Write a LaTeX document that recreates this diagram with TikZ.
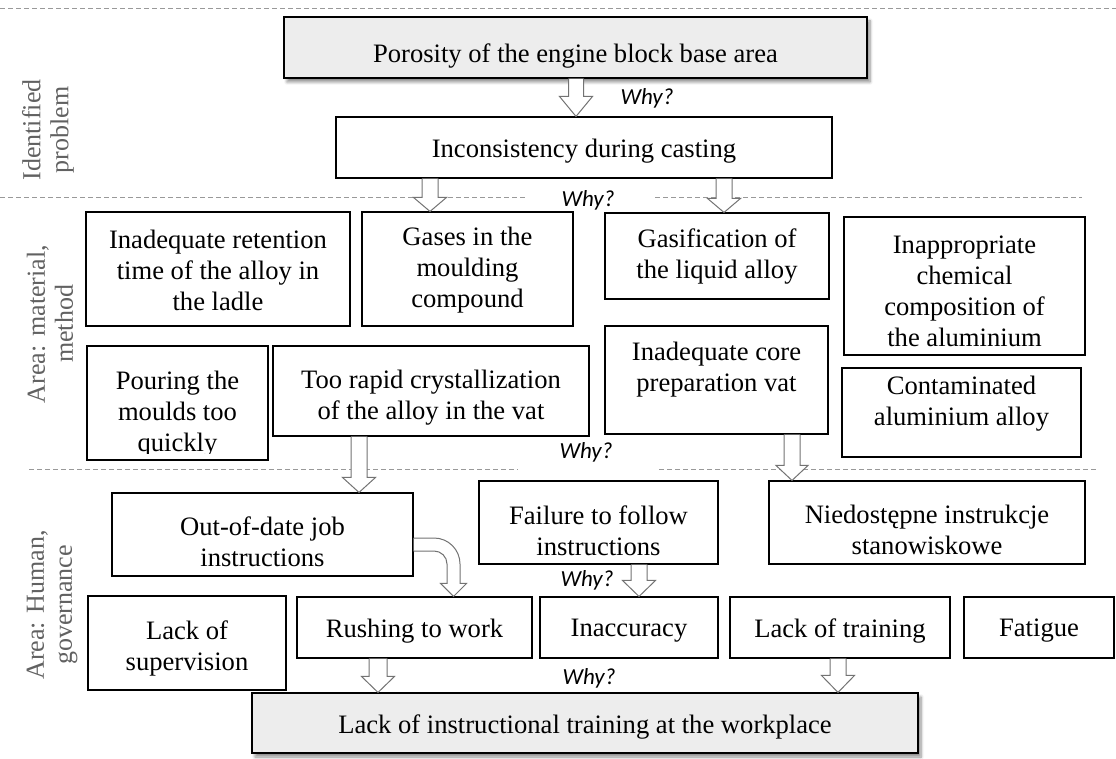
\documentclass[tikz,border=0pt]{standalone}
\usepackage{fontspec}
\setmainfont{Liberation Serif}
\newfontfamily\whyfont{Carlito}
\usetikzlibrary{calc,shadows.blur}

\tikzset{
  box/.style={draw=black, line width=1.1pt, fill=white, inner sep=0pt},
  gbox/.style={box, fill=black!7, blur shadow={shadow xshift=3pt, shadow yshift=-4pt, shadow blur steps=6, shadow blur radius=3pt, shadow opacity=45}},
  txt/.style={align=center, font=\fontsize{26.6}{31}\selectfont, inner sep=0pt},
  why/.style={font=\whyfont\itshape\fontsize{23}{26}\selectfont, inner sep=0pt},
  side/.style={align=center, rotate=90, text=black!62, font=\fontsize{26}{28}\selectfont, inner sep=0pt},
  sep/.style={draw=black!40, line width=0.8pt, dash pattern=on 5pt off 3pt},
  blk/.style={draw=black!55, line width=1pt, fill=white, line join=miter},
}

% #1 from node, #2 to node, #3 x centre, #4 shaft half width, #5 head half width, #6 head length
\newcommand{\blkarrow}[6]{%
  \draw[blk] let \p1=(#1.south), \p2=(#2.north) in
    (#3pt-#4pt,\y1) -- (#3pt-#4pt,\y2+#6pt) -- (#3pt-#5pt,\y2+#6pt) -- (#3pt,\y2)
    -- (#3pt+#5pt,\y2+#6pt) -- (#3pt+#4pt,\y2+#6pt) -- (#3pt+#4pt,\y1);
}

\begin{document}
\begin{tikzpicture}[x=1pt,y=-1pt]
\useasboundingbox (0,0) rectangle (1116,759);

% separators
\draw[sep] (0,8) -- (1116,8);
\draw[sep] (0,197) -- (527,197);
\draw[sep] (655,197) -- (1082,197);
\draw[sep] (29,469) -- (518,469);
\draw[sep] (659,469) -- (1097,469);

% side labels
\node[side] (lid) at (48,130) {Identified\\problem};
\node[side] (lmat) at (50,324) {Area: material,\\method};
\node[side] (lhum) at (52,605) {Area: Human,\\governance};

% boxes
\node[gbox, minimum width=583pt, minimum height=61pt] (p1) at (575.5,47.5) {};
\node[txt] (p1t) at (575.5,56) {Porosity of the engine block base area};

\node[box, minimum width=496pt, minimum height=61pt] (p2) at (584,147.5) {};
\node[txt] (p2t) at (584,151) {Inconsistency during casting};

\node[box, minimum width=264pt, minimum height=114pt] (a1) at (218,269) {};
\node[txt] (a1t) at (218,270) {Inadequate retention\\time of the alloy in\\the ladle};

\node[box, minimum width=211pt, minimum height=114pt] (a2) at (467.5,269) {};
\node[txt] (a2t) at (467.5,270) {Gases in the\\moulding\\compound};

\node[box, minimum width=224pt, minimum height=86pt] (a3) at (717,256) {};
\node[txt] (a3t) at (717,257) {Gasification of\\the liquid alloy};

\node[box, minimum width=241pt, minimum height=138pt] (a4) at (964.5,286) {};
\node[txt] (a4t) at (964.5,291) {Inappropriate\\chemical\\composition of\\the aluminium};

\node[box, minimum width=181pt, minimum height=114pt] (b1) at (177.5,403) {};
\begin{scope}
  \clip (87,346) rectangle (268,453);
  \node[txt] (b1t) at (177.5,414) {Pouring the\\moulds too\\quickly};
\end{scope}

\node[box, minimum width=316pt, minimum height=90pt] (b2) at (431,391) {};
\node[txt] (b2t) at (431,398) {Too rapid crystallization\\of the alloy in the vat};

\node[box, minimum width=223pt, minimum height=108pt] (b3) at (716.5,380) {};
\node[txt] (b3t) at (716.5,370) {Inadequate core\\preparation vat};

\node[box, minimum width=239pt, minimum height=89pt] (b4) at (961.5,412.5) {};
\node[txt] (b4t) at (961.5,404) {Contaminated\\aluminium alloy};

\node[box, minimum width=301pt, minimum height=83pt] (h1) at (262.5,534.5) {};
\begin{scope}
  \clip (112,493) rectangle (413,566);
  \node[txt] (h1t) at (262.5,542) {Out-of-date job\\instructions};
\end{scope}

\node[box, minimum width=239pt, minimum height=83pt] (h2) at (598.5,522.5) {};
\begin{scope}
  \clip (479,481) rectangle (718,556);
  \node[txt] (h2t) at (598.5,531) {Failure to follow\\instructions};
\end{scope}

\node[box, minimum width=316pt, minimum height=83pt] (h3) at (927,522.5) {};
\node[txt] (h3t) at (927,530) {Niedostępne instrukcje\\stanowiskowe};

\node[box, minimum width=198pt, minimum height=94pt] (c1) at (187,643) {};
\node[txt] (c1t) at (187,648) {Lack of\\supervision};

\node[box, minimum width=235pt, minimum height=61pt] (c2) at (414.5,627.5) {};
\node[txt] (c2t) at (414.5,631) {Rushing to work};

\node[box, minimum width=178pt, minimum height=61pt] (c3) at (629,627.5) {};
\node[txt] (c3t) at (629,631) {Inaccuracy};

\node[box, minimum width=220pt, minimum height=61pt] (c4) at (840,627.5) {};
\node[txt] (c4t) at (840,631) {Lack of training};

\node[box, minimum width=150pt, minimum height=61pt] (c5) at (1039,627.5) {};
\node[txt] (c5t) at (1039,631) {Fatigue};

\node[gbox, minimum width=666pt, minimum height=60pt] (bot) at (585,723) {};
\node[txt] (bott) at (585,727) {Lack of instructional training at the workplace};

% block arrows
\blkarrow{p1}{p2}{576}{7.5}{16.5}{20}
\blkarrow{p2}{a2}{430}{8}{16.5}{14}
\blkarrow{p2}{a3}{724}{8}{16.5}{14}
\blkarrow{b2}{h1}{359}{8}{16.5}{15}
\blkarrow{b3}{h3}{792}{8}{16}{15}
\blkarrow{h2}{c3}{639}{8}{16.5}{16}
\blkarrow{c2}{bot}{378}{9}{16.5}{16}
\blkarrow{c4}{bot}{838}{8}{16.5}{17}

% curved arrow from out-of-date instructions to rushing
\draw[blk] let \p1=(h1.east), \p2=(c2.north) in
  (\x1,-538pt) -- (434pt,-538pt) arc[start angle=90, end angle=0, radius=26pt]
  -- (460pt,\y2+13pt) -- (466.5pt,\y2+13pt) -- (453.5pt,\y2)
  -- (440.5pt,\y2+13pt) -- (447pt,\y2+13pt) -- (447pt,-564pt)
  arc[start angle=0, end angle=90, radius=13pt] -- (\x1,-551pt);

% why labels
\node[why] (w1) at (647,98) {Why?};
\node[why] (w2) at (588,200) {Why?};
\node[why] (w3) at (586,452) {Why?};
\node[why] (w4) at (587,580) {Why?};
\node[why] (w5) at (589,678) {Why?};
\end{tikzpicture}
\end{document}
